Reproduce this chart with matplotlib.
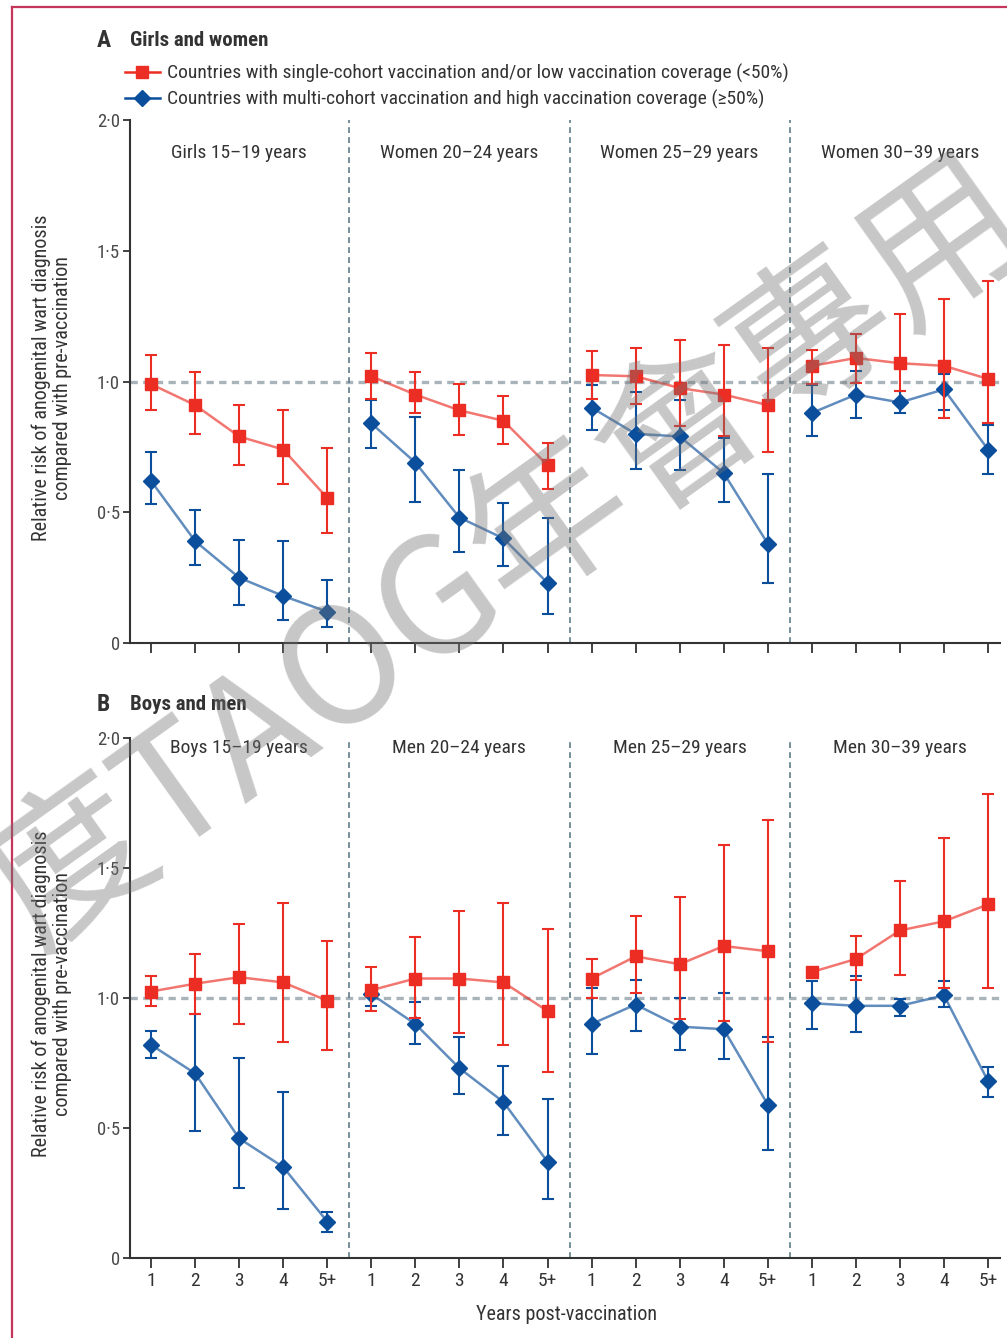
import numpy as np
import matplotlib
matplotlib.use("Agg")
import matplotlib.pyplot as plt
from matplotlib.lines import Line2D

FONT = ["Roboto Condensed", "Lato", "DejaVu Sans"]
plt.rcParams["font.family"] = FONT

# ---- data ----
years = ["1", "2", "3", "4", "5+"]
groups_a = ["Girls 15–19 years", "Women 20–24 years", "Women 25–29 years", "Women 30–39 years"]
groups_b = ["Boys 15–19 years", "Men 20–24 years", "Men 25–29 years", "Men 30–39 years"]
legend_labels = [
    "Countries with single-cohort vaccination and/or low vaccination coverage (<50%)",
    "Countries with multi-cohort vaccination and high vaccination coverage (≥50%)",
]
yticks = [0, 0.5, 1.0, 1.5, 2.0]
ytick_labels = ["0", "0·5", "1·0", "1·5", "2·0"]

# A: girls and women
a_red = [0.99, 0.91, 0.79, 0.74, 0.555, 1.02, 0.95, 0.89, 0.85, 0.68,
         1.025, 1.02, 0.975, 0.95, 0.91, 1.06, 1.09, 1.07, 1.06, 1.01]
a_red_lo = [0.89, 0.80, 0.68, 0.61, 0.42, 0.935, 0.88, 0.795, 0.76, 0.59,
            0.935, 0.915, 0.83, 0.79, 0.73, 0.99, 0.995, 0.965, 0.86, 0.84]
a_red_hi = [1.10, 1.035, 0.91, 0.89, 0.745, 1.11, 1.035, 0.99, 0.945, 0.765,
            1.115, 1.13, 1.16, 1.14, 1.13, 1.12, 1.18, 1.26, 1.315, 1.385]
a_blue = [0.62, 0.39, 0.25, 0.18, 0.12, 0.84, 0.69, 0.48, 0.40, 0.23,
          0.90, 0.80, 0.79, 0.65, 0.38, 0.88, 0.95, 0.92, 0.97, 0.74]
a_blue_lo = [0.53, 0.30, 0.145, 0.09, 0.062, 0.745, 0.54, 0.35, 0.295, 0.11,
             0.815, 0.665, 0.66, 0.54, 0.23, 0.79, 0.86, 0.88, 0.89, 0.645]
a_blue_hi = [0.73, 0.51, 0.395, 0.39, 0.24, 0.93, 0.865, 0.66, 0.535, 0.48,
             0.985, 0.96, 0.93, 0.785, 0.645, 0.985, 1.04, 0.965, 1.03, 0.835]

# B: boys and men
b_red = [1.025, 1.055, 1.08, 1.06, 0.99, 1.03, 1.075, 1.075, 1.06, 0.95,
         1.075, 1.16, 1.13, 1.20, 1.18, 1.10, 1.15, 1.26, 1.295, 1.36]
b_red_lo = [0.97, 0.94, 0.90, 0.83, 0.80, 0.95, 0.925, 0.865, 0.82, 0.715,
            1.0, 1.02, 0.92, 0.91, 0.83, 1.08, 1.07, 1.09, 1.04, 1.04]
b_red_hi = [1.085, 1.17, 1.285, 1.365, 1.22, 1.12, 1.235, 1.335, 1.365, 1.265,
            1.15, 1.315, 1.39, 1.59, 1.685, 1.11, 1.24, 1.45, 1.615, 1.785]
b_blue = [0.82, 0.71, 0.46, 0.35, 0.14, 1.015, 0.90, 0.73, 0.60, 0.37,
          0.90, 0.975, 0.89, 0.88, 0.59, 0.98, 0.97, 0.97, 1.01, 0.68]
b_blue_lo = [0.77, 0.49, 0.27, 0.19, 0.10, 0.97, 0.825, 0.63, 0.475, 0.225,
             0.785, 0.875, 0.80, 0.765, 0.415, 0.88, 0.87, 0.93, 0.965, 0.62]
b_blue_hi = [0.875, 0.94, 0.77, 0.64, 0.175, 1.04, 0.985, 0.85, 0.74, 0.61,
             1.04, 1.07, 1.0, 1.02, 0.85, 1.065, 1.085, 0.995, 1.065, 0.735]

RED = "#ec2d24"
BLUE = "#0b4f9c"
INK = "#333333"
FS = 14


def draw_series(ax, x, mid, lo, hi, color, marker, ms, z):
    mid, lo, hi = np.array(mid), np.array(lo), np.array(hi)
    for g in range(4):
        s = slice(g * 5, g * 5 + 5)
        ax.errorbar(x[s], mid[s], yerr=[mid[s] - lo[s], hi[s] - mid[s]], fmt="none",
                    ecolor=color, elinewidth=1.5, capsize=4, capthick=1.5,
                    zorder=z, clip_on=False)
        ax.plot(x[s], mid[s], color=color, lw=1.8, alpha=0.65, zorder=z + 0.1)
        ax.plot(x[s], mid[s], ls="none", marker=marker, ms=ms, color=color,
                zorder=z + 0.2, clip_on=False)


def draw_panel(ax, groups, red, red_lo, red_hi, blue, blue_lo, blue_hi, title_y, show_xlabels):
    x = np.arange(len(groups) * len(years))
    ax.axhline(1.0, color="#a9b4ba", lw=2.4, dashes=(2.2, 1.6), zorder=1)
    for b in [4.5, 9.5, 14.5]:
        ax.axvline(b, color="#5e7b88", lw=1.2, dashes=(3.5, 2.5), zorder=1)
    draw_series(ax, x, blue, blue_lo, blue_hi, BLUE, "D", 8.5, 3)
    draw_series(ax, x, red, red_lo, red_hi, RED, "s", 9, 4)
    for g, name in enumerate(groups):
        ax.text(2 + 5 * g, title_y, name, ha="center", va="center", fontsize=FS, color=INK)
    ax.set_xlim(-0.48, 19.27)
    ax.set_ylim(0, 2.0)
    ax.set_yticks(yticks)
    ax.set_yticklabels(ytick_labels)
    ax.set_xticks(x)
    if show_xlabels:
        ax.set_xticklabels(years * 4)
    else:
        ax.set_xticklabels([])
    for side in ["top", "right"]:
        ax.spines[side].set_visible(False)
    for side in ["left", "bottom"]:
        ax.spines[side].set_color(INK)
        ax.spines[side].set_linewidth(1.5)
    ax.tick_params(axis="y", direction="out", length=5, width=1.3, color=INK,
                   labelsize=13.5, labelcolor="#4a4a4a", pad=2)
    ax.tick_params(axis="x", direction="out", length=7, width=1.3, color=INK,
                   labelsize=FS, labelcolor=INK, pad=3)


fig = plt.figure(figsize=(10.07, 13.38), dpi=100)
ax_a = fig.add_axes([0.129, 0.5194, 0.864, 0.3909])
ax_b = fig.add_axes([0.129, 0.0598, 0.864, 0.3886])

draw_panel(ax_a, groups_a, a_red, a_red_lo, a_red_hi, a_blue, a_blue_lo, a_blue_hi, 1.875, False)
draw_panel(ax_b, groups_b, b_red, b_red_lo, b_red_hi, b_blue, b_blue_lo, b_blue_hi, 1.96, True)

# panel headers
fig.text(0.096, 0.970, "A", fontsize=17, fontweight="bold", color=INK, va="center")
fig.text(0.129, 0.970, "Girls and women", fontsize=15, fontweight="bold", color=INK, va="center")
fig.text(0.096, 0.4736, "B", fontsize=17, fontweight="bold", color=INK, va="center")
fig.text(0.129, 0.4736, "Boys and men", fontsize=15, fontweight="bold", color=INK, va="center")

handles = [
    Line2D([], [], color=RED, lw=1.8, marker="s", ms=9),
    Line2D([], [], color=BLUE, lw=1.8, marker="D", ms=8.5),
]
fig.legend(handles, legend_labels, loc="upper left", bbox_to_anchor=(0.124, 0.952),
           frameon=False, fontsize=FS, handlelength=1.8, handletextpad=0.35,
           labelspacing=0.35, borderpad=0, borderaxespad=0, labelcolor=INK)

ylab = "Relative risk of anogenital wart diagnosis\ncompared with pre-vaccination"
fig.text(0.0516, 0.7175, ylab, rotation=90, ha="center", va="center", fontsize=14.5,
         color=INK, linespacing=1.15)
fig.text(0.0516, 0.257, ylab, rotation=90, ha="center", va="center", fontsize=14.5,
         color=INK, linespacing=1.15)
fig.text(0.563, 0.0172, "Years post-vaccination", ha="center", va="center", fontsize=14.5, color=INK)

# page frame
fig.add_artist(Line2D([0.012, 0.012], [0, 0.9948], transform=fig.transFigure, color="#c4365a", lw=1.6))
fig.add_artist(Line2D([0.012, 1.0], [0.9948, 0.9948], transform=fig.transFigure, color="#c4365a", lw=1.6))

# watermark (runs off the left edge, as in the source page)
fig.text(0.505, 0.585, "度TAOG年會專用", fontsize=116, rotation=35.5, color="0.45", alpha=0.40,
         ha="center", va="center", family=["Noto Sans CJK TC", "DejaVu Sans"], zorder=10)

fig.savefig("out.png", dpi=100)
